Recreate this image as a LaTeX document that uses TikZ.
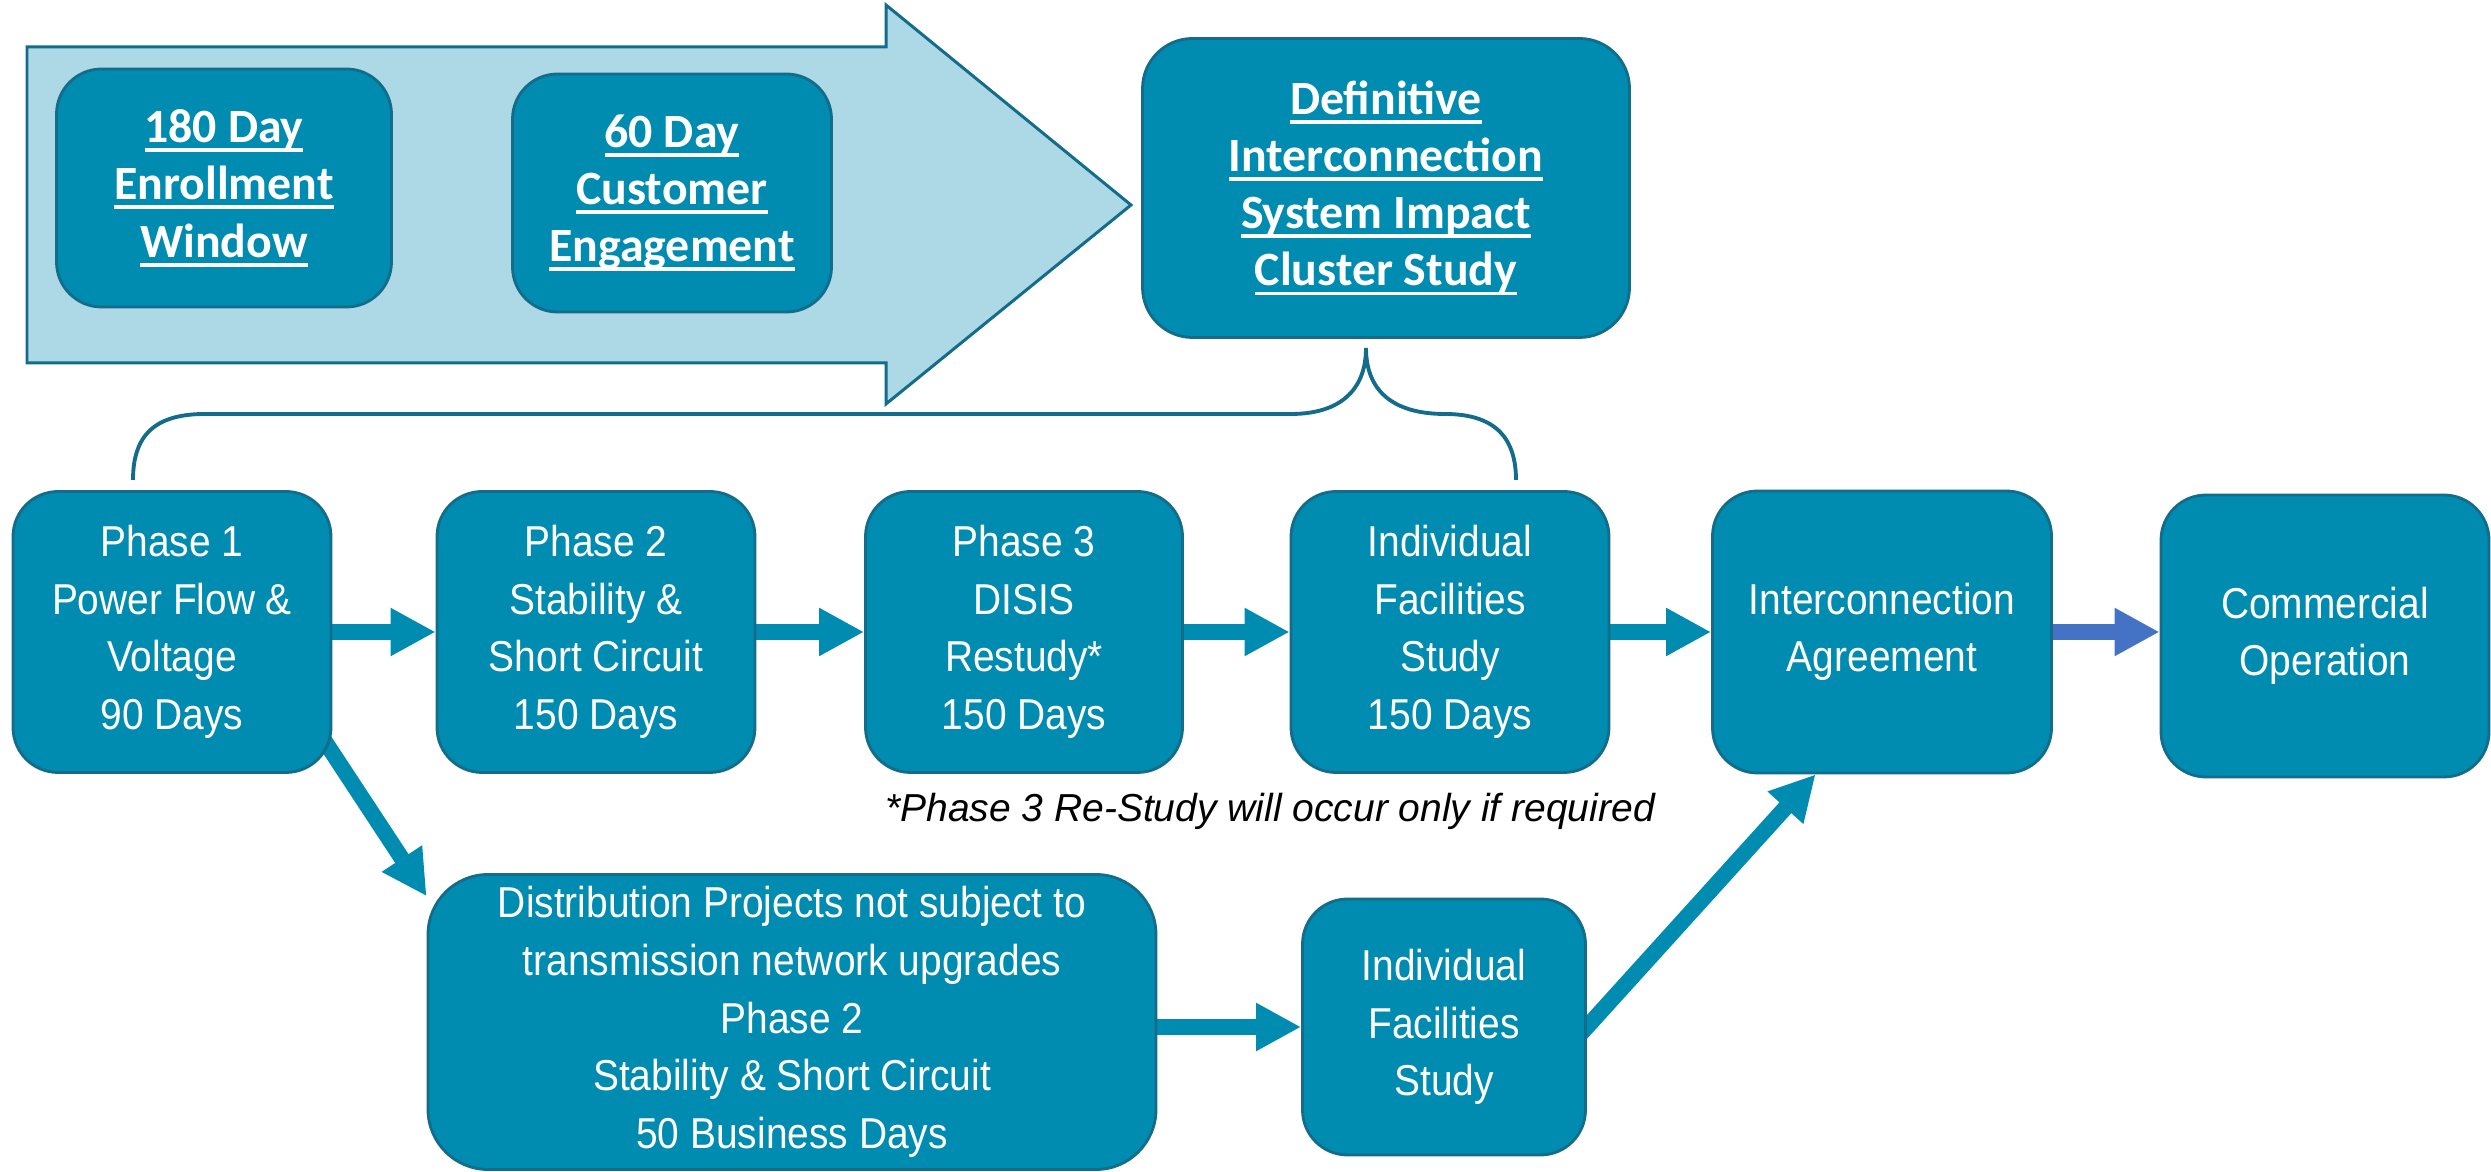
\documentclass[tikz,border=0pt]{standalone}
\usepackage{fontspec}
\setmainfont{Liberation Sans}
\newfontfamily\stagefont{Liberation Sans}[FakeStretch=0.9]
\newfontfamily\carlito{Carlito}
\usetikzlibrary{arrows.meta,backgrounds}
\definecolor{boxfill}{RGB}{0,139,176}
\definecolor{boxline}{RGB}{18,108,138}
\definecolor{bandfill}{RGB}{173,216,230}
\definecolor{nextblue}{RGB}{68,114,196}
\newsavebox{\ulinebox}
\newcommand{\ulin}[1]{\sbox{\ulinebox}{#1}\rlap{\rule[-2.7pt]{\wd\ulinebox}{1.1pt}}\usebox{\ulinebox}}
\begin{document}
\begin{tikzpicture}[x=0.1mm,y=-0.1mm,
    stage/.style={draw=boxline,line width=0.8pt,fill=boxfill,rounded corners=4.5mm,
      text=white,align=center,inner sep=0pt,font=\stagefont\fontsize{12.3}{16.4}\selectfont},
    window/.style={stage,font=\carlito\bfseries\fontsize{13.6}{16.3}\selectfont},
    flow/.style={draw=boxfill,line width=1.6mm,-{Triangle[width=4.5mm,length=4.5mm]}}]
\useasboundingbox (0,0) rectangle (2491,1172);
\filldraw[fill=bandfill,draw=boxline,line width=0.85pt] (27,47)--(886,47)--(886,5)--(1131,205)--(886,404)--(886,363)--(27,363)--cycle;
\node[window,minimum width=33.5mm,minimum height=23.8mm] (enroll) at (224,188) {\ulin{180 Day}\\\ulin{Enrollment}\\\ulin{Window}};
\node[window,minimum width=31.9mm,minimum height=23.8mm] (engage) at (672,193) {\ulin{60 Day}\\\ulin{Customer}\\\ulin{Engagement}};
\node[window,rounded corners=5mm,minimum width=48.7mm,minimum height=29.9mm] (disis) at (1386,188) {\ulin{Definitive}\\\ulin{Interconnection}\\\ulin{System Impact}\\\ulin{Cluster Study}};
\draw[boxline,line width=1.1pt] (133,480) .. controls (133,435) and (155,414) .. (205,414) -- (1291,414)
  .. controls (1340,414) and (1366,390) .. (1366,348) .. controls (1366,390) and (1392,414) .. (1445,414)
  .. controls (1492,414) and (1516,435) .. (1516,480);
\node[stage,minimum width=31.8mm,minimum height=28.1mm] (phase1) at (172,632) {Phase 1\\Power Flow \&\\Voltage\\90 Days};
\node[stage,minimum width=31.8mm,minimum height=28.1mm] (phase2) at (596,632) {Phase 2\\Stability \&\\Short Circuit\\150 Days};
\node[stage,minimum width=31.7mm,minimum height=28.1mm] (phase3) at (1024,632) {Phase 3\\DISIS\\Restudy*\\150 Days};
\node[stage,minimum width=31.8mm,minimum height=28.1mm] (ifs) at (1450,632) {Individual\\Facilities\\Study\\150 Days};
\node[stage,minimum width=33.9mm,minimum height=28.2mm] (ia) at (1882,632) {Interconnection\\Agreement};
\node[stage,minimum width=32.8mm,minimum height=28.2mm] (cop) at (2325,636) {Commercial\\Operation};
\node[font=\itshape\fontsize{11.1}{13}\selectfont,anchor=base] (note) at (1270,822) {*Phase 3 Re-Study will occur only if required};
\node[stage,rounded corners=6mm,minimum width=72.8mm,minimum height=29.5mm] (dist) at (792,1022) {Distribution Projects not subject to\\transmission network upgrades\\Phase 2\\Stability \& Short Circuit\\50 Business Days};
\node[stage,minimum width=28.3mm,minimum height=25.6mm] (ifs2) at (1444,1027) {Individual\\Facilities\\Study};
\begin{scope}[on background layer]
\draw[flow] (phase1.east) -- (phase2.west);
\draw[flow] (phase2.east) -- (phase3.west);
\draw[flow] (phase3.east) -- (ifs.west);
\draw[flow] (ifs.east) -- (ia.west);
\draw[flow,draw=nextblue] (ia.east) -- (ia.east -| cop.west);
\draw[flow,shorten <=-2mm] (phase1.-37) -- (dist.161);
\draw[flow] (dist.east |- ifs2.west) -- (ifs2.west);
\draw[flow,shorten <=-2mm] (ifs2.east) -- (ia.-115);
\end{scope}
\end{tikzpicture}
\end{document}
